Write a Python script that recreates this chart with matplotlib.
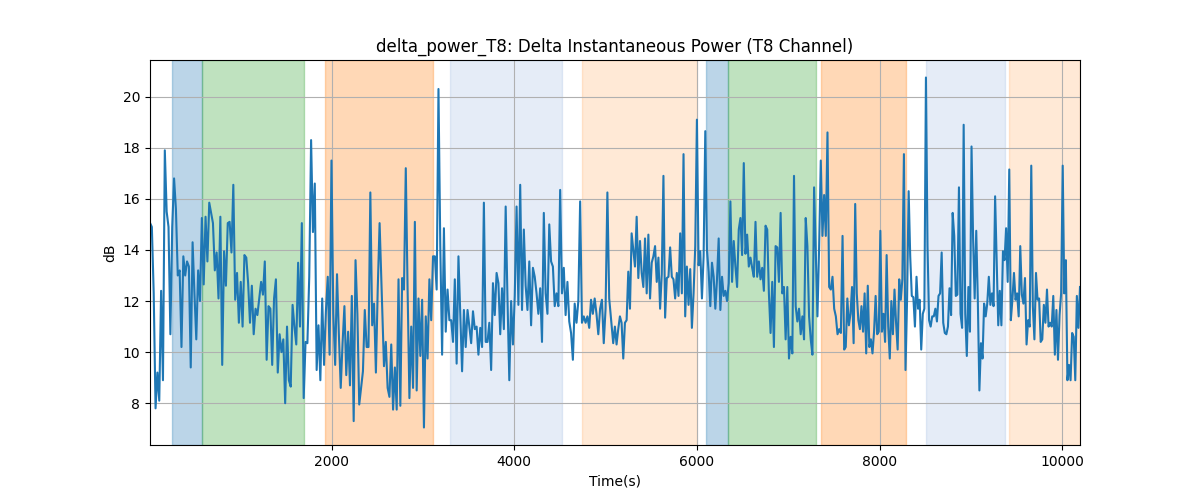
import numpy as np
import matplotlib
matplotlib.use("Agg")
import matplotlib.pyplot as plt

# Signal values (dB), read in four consecutive stretches of time
seg1_db = [15.06, 14.9, 12.3, 7.8, 9.2, 8.1, 12.4, 8.9, 17.9, 15.5, 14.9, 10.7, 14.9, 16.8, 15.6, 13.0,
           13.2, 10.2, 13.75, 13.0, 13.55, 13.35, 9.4, 14.3, 12.3, 10.5, 13.2, 12.0, 15.25, 12.65,
           15.3, 13.55, 15.85, 15.45, 15.05, 13.2, 13.9, 12.1, 15.3, 9.5, 13.95, 12.6, 15.05, 15.1,
           13.9, 16.55, 12.05, 13.1, 11.15, 12.75, 11.0, 13.8, 13.7, 12.7, 11.15, 12.6, 10.7, 11.7,
           11.45, 12.1, 12.75, 12.25, 13.55, 9.7, 11.8, 11.7, 9.5, 12.1, 12.85, 9.2, 10.7, 10.0,
           10.5, 8.0, 11.0, 8.9, 8.65, 11.85, 11.0, 10.3, 13.5, 11.0, 15.05, 8.2, 10.4, 10.35,
           12.95, 18.3, 14.7, 16.6, 9.3, 11.05, 8.9, 12.1, 9.5, 11.6, 12.95, 9.9, 17.5, 11.5, 9.5,
           13.05, 10.7, 8.6, 10.35, 11.8, 9.1, 10.8, 8.7, 12.2, 7.3, 13.6, 11.5, 7.95, 8.6, 9.25,
           11.65, 10.2, 10.2, 16.25, 11.05, 11.9, 9.2, 12.5, 15.05]
seg2_db = [9.45, 10.4, 8.6, 8.25, 10.3, 7.75, 9.4, 7.75, 12.85, 7.9, 12.9, 12.45, 17.2, 12.45, 8.2,
           11.0, 8.6, 15.1, 8.5, 12.1, 9.85, 12.05, 7.05, 11.4, 9.75, 12.85, 11.25, 13.75, 13.75,
           12.45, 20.3, 14.15, 9.9, 14.85, 10.8, 12.45, 11.25, 11.25, 10.4, 12.85, 9.55, 13.75,
           11.5, 9.25, 11.65, 10.2, 11.65, 11.0, 10.35, 11.6, 10.9, 11.0, 9.9, 10.95, 10.2, 15.85,
           10.4, 10.4, 11.15, 9.3, 12.7, 11.45, 13.1, 12.7, 10.7, 12.5, 10.9, 15.7, 12.05, 8.9,
           12.0, 10.3, 12.2, 15.7, 11.85, 16.55, 11.65, 14.8, 12.6, 11.65, 13.55, 11.05, 13.3,
           12.95, 12.3, 11.5, 12.5, 10.4, 15.45, 12.3, 11.5, 15.0, 13.55, 13.35, 11.8, 12.3, 11.8,
           16.35, 12.3, 13.3, 11.45, 12.75, 11.2, 10.75, 9.7, 11.9, 11.15, 12.0, 15.9, 11.15, 11.4,
           11.15, 11.4, 10.95, 12.05, 11.5, 12.1, 11.5, 10.7, 11.7, 12.05, 10.35, 11.7, 16.25, 12.1]
seg3_db = [10.35, 11.0, 10.3, 10.9, 11.4, 11.15, 9.75, 11.15, 11.25, 13.15, 11.7, 14.65, 14.0, 13.35,
           15.3, 12.9, 14.35, 13.1, 12.55, 14.45, 12.3, 14.6, 12.1, 13.5, 13.75, 14.15, 12.75, 13.7,
           11.7, 13.05, 16.9, 11.35, 12.9, 12.95, 14.1, 12.95, 12.85, 12.1, 13.1, 12.2, 14.65, 12.3,
           17.75, 11.4, 13.35, 11.85, 13.25, 10.95, 12.3, 14.15, 19.1, 13.4, 13.95, 12.1, 13.75,
           18.65, 14.0, 13.15, 11.8, 13.5, 12.95, 11.7, 12.85, 14.45, 11.65, 12.95, 12.2, 12.4,
           12.0, 12.7, 15.9, 12.75, 14.35, 13.35, 12.55, 14.8, 15.25, 13.8, 17.4, 13.85, 14.6,
           13.35, 13.7, 13.3, 12.95, 15.1, 12.95, 13.55, 12.85, 13.3, 12.4, 14.95, 14.8, 12.3,
           10.75, 12.75, 10.2, 14.15, 14.1, 12.75, 15.45, 12.3, 12.55, 10.5, 12.55, 9.75, 10.6,
           9.95, 16.9, 11.8, 11.2, 11.7, 10.7, 11.4, 10.5, 15.25, 14.15, 11.4, 10.5, 9.9, 16.45,
           14.0, 11.4, 14.1, 17.5, 14.55, 16.15, 14.55, 18.6, 12.55, 12.45, 12.95, 11.7, 11.4,
           10.7, 10.9, 10.75, 14.55]
seg4_db = [10.1, 10.2, 12.1, 11.05, 11.5, 12.55, 10.35, 15.8, 12.3, 11.25, 10.9, 11.8, 10.8, 12.3,
           9.95, 12.6, 10.2, 10.5, 9.95, 10.8, 12.2, 10.7, 10.8, 14.75, 10.8, 11.5, 10.4, 13.8,
           11.0, 9.75, 12.0, 10.7, 12.45, 11.15, 10.1, 12.85, 12.05, 12.85, 17.75, 9.3, 12.05,
           16.3, 13.75, 12.2, 12.15, 11.0, 12.95, 11.7, 12.05, 10.1, 11.5, 11.7, 20.75, 14.15,
           11.25, 11.0, 11.4, 11.4, 11.7, 11.2, 12.2, 12.3, 13.9, 11.15, 10.75, 10.7, 11.0, 12.5,
           11.45, 15.45, 14.55, 12.2, 12.25, 16.45, 11.5, 10.95, 18.9, 11.5, 9.85, 12.55, 10.8,
           18.05, 14.45, 12.1, 14.75, 12.05, 8.5, 10.35, 9.75, 11.9, 11.4, 11.9, 12.95, 11.85,
           12.3, 11.8, 16.1, 13.6, 11.05, 12.4, 11.05, 13.95, 13.6, 14.85, 12.75, 17.15, 11.25,
           12.05, 13.1, 12.05, 12.3, 11.4, 14.15, 12.25, 11.9, 12.9, 10.3, 11.25, 11.0, 17.3, 11.8,
           10.5, 13.1, 12.05, 12.1, 10.4, 10.5, 11.85, 11.15, 12.45, 11.0, 11.15, 11.0, 12.2, 9.9,
           11.65, 9.7, 11.45, 12.3, 17.3, 12.3, 13.6, 8.9, 9.5, 8.9, 10.75, 10.6, 8.9, 12.2,
           10.95, 12.55]

# Time span (s) covered by each stretch
seg_start_s = [11, 2573, 5083, 7612]
seg_end_s = [2525, 5039, 7594, 10194]

# Shaded intervals (start s, end s, colour, alpha)
span_start = [252, 577, 1927, 3295, 4740, 6098, 6342, 7356, 8506, 9414]
span_end = [577, 1700, 3105, 4518, 5995, 6342, 7298, 8294, 9370, 10194]
span_color = ["tab:blue", "tab:green", "tab:orange", "#4a7fc9", "tab:orange",
              "tab:blue", "tab:green", "tab:orange", "#4a7fc9", "tab:orange"]
span_alpha = [0.3, 0.3, 0.3, 0.14, 0.17, 0.3, 0.3, 0.3, 0.14, 0.17]

segs = [seg1_db, seg2_db, seg3_db, seg4_db]
t = np.concatenate([np.linspace(a, b, len(s)) for a, b, s in zip(seg_start_s, seg_end_s, segs)])
y = np.concatenate(segs)

fig, ax = plt.subplots(figsize=(12, 5), dpi=100)
for a, b, c, al in zip(span_start, span_end, span_color, span_alpha):
    ax.axvspan(a, b, color=c, alpha=al)
ax.plot(t, y, color="tab:blue", linewidth=1.5)
ax.set_xlim(t.min(), t.max())
ax.grid(True)
ax.set_title("delta_power_T8: Delta Instantaneous Power (T8 Channel)")
ax.set_xlabel("Time(s)")
ax.set_ylabel("dB")
fig.savefig("out.png")
